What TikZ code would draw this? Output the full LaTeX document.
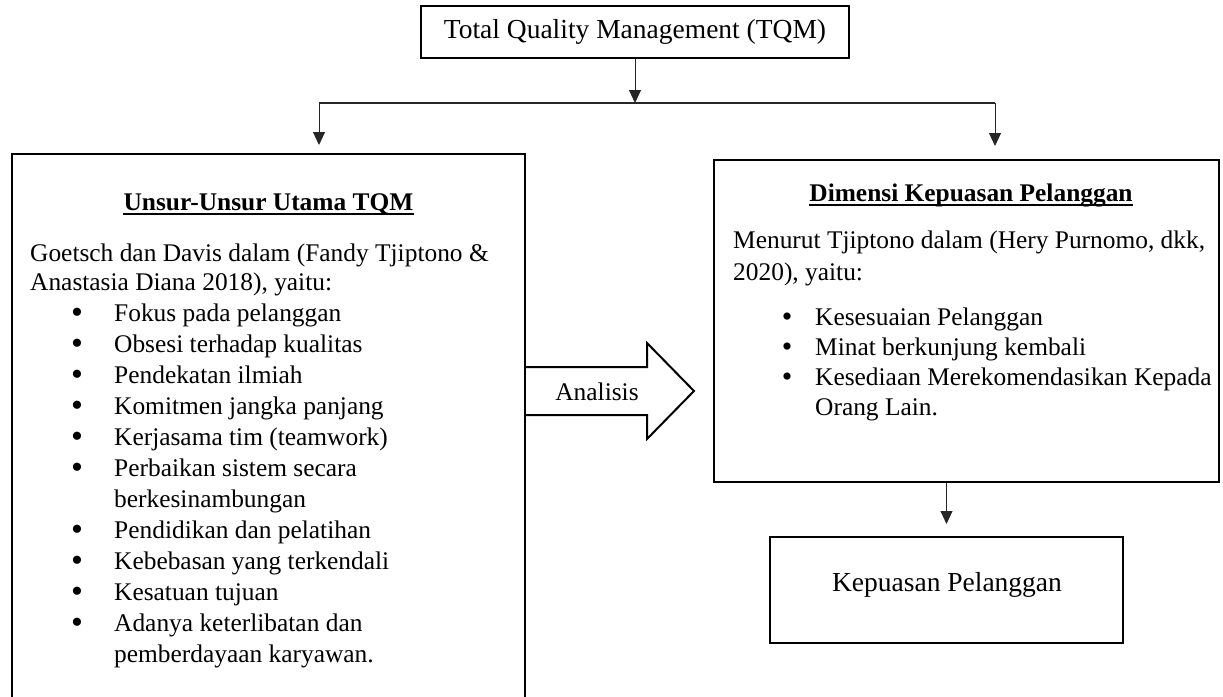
\documentclass[tikz,border=0pt]{standalone}
\usepackage{fontspec}
\setmainfont{Liberation Serif}
\usetikzlibrary{arrows.meta}
\begin{document}
\begin{tikzpicture}[x=1pt,y=-1pt,
  box/.style={draw, line width=2pt, inner sep=0pt},
  conn/.style={line width=1pt, draw=black!85, -{Triangle[length=13pt,width=12pt]}},
  plainline/.style={line width=1.2pt, draw=black!85},
  body/.style={font=\fontsize{25.4}{31}\selectfont, inner sep=0pt, anchor=base west},
  bul/.style={font=\fontsize{25.4}{31}\selectfont, inner sep=0pt, anchor=base},
  dot/.style={font=\fontsize{34}{34}\selectfont, inner sep=0pt, anchor=base, yshift=-2.5pt, text height=14pt, text depth=0pt},
  sdot/.style={font=\fontsize{30}{30}\selectfont, inner sep=0pt, anchor=base, yshift=-1.5pt, text height=12pt, text depth=0pt},
  head/.style={font=\fontsize{27.5}{33}\selectfont, inner sep=0pt},
  ttl/.style={font=\fontsize{25.4}{31}\selectfont\bfseries, inner sep=0pt, anchor=base},
  uline/.style={line width=1.3pt}]
\useasboundingbox (0,0) rectangle (1223,696);
\clip (0,0) rectangle (1223,696);

% boxes
\node[box, head, minimum width=428pt, minimum height=52pt] (tqm) at (635,32) {Total Quality Management (TQM)};
\node[box, minimum width=513pt, minimum height=548pt] (left) at (268.5,428) {};
\node[box, minimum width=505pt, minimum height=322pt] (right) at (966.5,321) {};
\node[box, minimum width=353pt, minimum height=106pt] (kp) at (946.5,590) {};
\node[head, anchor=base] (kptext) at (947,591) {Kepuasan Pelanggan};

% connectors
\coordinate (jL) at (319,103);
\coordinate (jR) at (995,103);
\coordinate (jC) at (tqm.south |- jL);
\draw[conn] (tqm.south) -- (jC);
\draw[plainline] (jL) -- (jR);
\draw[conn, shorten >=8pt] (jL) -- (jL |- left.north);
\draw[conn, shorten >=13pt] (jR) -- (jR |- right.north);
\draw[conn, shorten >=12pt] (kp.north |- right.south) -- (kp.north);

% Analisis arrow
\draw[line width=2pt, line join=miter] (left.east |- 0,367) -- (647,367) -- (647,343) -- (694,391) -- (647,439) -- (647,415) -- (left.east |- 0,415);
\node[bul] (an) at (597,400) {Analisis};

% left box content
\node[ttl] (t1) at (268.5,210) {Unsur-Unsur Utama TQM};
\draw[uline] ([yshift=-4pt]t1.base west) -- ([yshift=-4pt]t1.base east);
\node[body] (g1) at (30,261) {Goetsch dan Davis dalam (Fandy Tjiptono \&};
\node[body] (g2) at (30,290) {Anastasia Diana 2018), yaitu:};
\node[dot] (b1) at (77,321) {•}; \node[body] (i1) at (114,321) {Fokus pada pelanggan};
\node[dot] (b2) at (77,352) {•}; \node[body] (i2) at (114,352) {Obsesi terhadap kualitas};
\node[dot] (b3) at (77,383) {•}; \node[body] (i3) at (114,383) {Pendekatan ilmiah};
\node[dot] (b4) at (77,414) {•}; \node[body] (i4) at (114,414) {Komitmen jangka panjang};
\node[dot] (b5) at (77,445) {•}; \node[body] (i5) at (114,445) {Kerjasama tim (teamwork)};
\node[dot] (b6) at (77,476) {•}; \node[body] (i6) at (114,476) {Perbaikan sistem secara};
\node[body] (i6b) at (114,507) {berkesinambungan};
\node[dot] (b7) at (77,538) {•}; \node[body] (i7) at (114,538) {Pendidikan dan pelatihan};
\node[dot] (b8) at (77,569) {•}; \node[body] (i8) at (114,569) {Kebebasan yang terkendali};
\node[dot] (b9) at (77,600) {•}; \node[body] (i9) at (114,600) {Kesatuan tujuan};
\node[dot] (b10) at (77,631) {•}; \node[body] (i10) at (114,631) {Adanya keterlibatan dan};
\node[body] (i10b) at (114,662) {pemberdayaan karyawan.};

% right box content
\node[ttl] (t2) at (971,201) {Dimensi Kepuasan Pelanggan};
\draw[uline] ([yshift=-4pt]t2.base west) -- ([yshift=-4pt]t2.base east);
\node[body] (m1) at (733,248) {Menurut Tjiptono dalam (Hery Purnomo, dkk,};
\node[body] (m2) at (733,280) {2020), yaitu:};
\node[sdot] (c1) at (787,325) {•}; \node[body] (k1) at (815,325) {Kesesuaian Pelanggan};
\node[sdot] (c2) at (787,355) {•}; \node[body] (k2) at (815,355) {Minat berkunjung kembali};
\node[sdot] (c3) at (787,385) {•}; \node[body] (k3) at (815,385) {Kesediaan Merekomendasikan Kepada};
\node[body] (k3b) at (815,415) {Orang Lain.};
\end{tikzpicture}
\end{document}
